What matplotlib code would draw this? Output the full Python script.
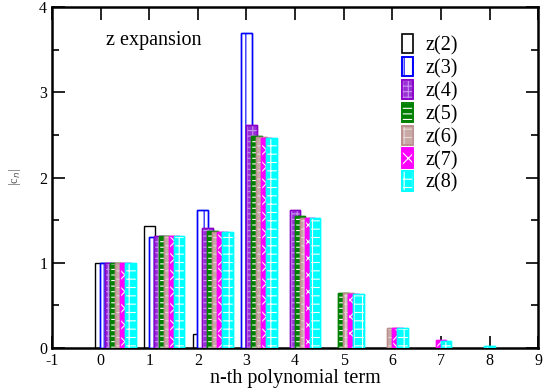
import matplotlib
matplotlib.use("Agg")
import matplotlib.pyplot as plt
from matplotlib.ticker import MultipleLocator
from matplotlib.patches import Patch

plt.rcParams['font.family'] = ['Liberation Serif', 'DejaVu Serif']
plt.rcParams['hatch.linewidth'] = 0.8
plt.rcParams['axes.unicode_minus'] = False

labels = ["z(2)", "z(3)", "z(4)", "z(5)", "z(6)", "z(7)", "z(8)"]
z2 = [1.00, 1.43, 0.17]
z3 = [1.00, 1.30, 1.62, 3.70]
z4 = [1.00, 1.31, 1.41, 2.62, 1.62]
z5 = [1.00, 1.31, 1.37, 2.49, 1.55, 0.65]
z6 = [1.00, 1.31, 1.36, 2.48, 1.53, 0.65, 0.24]
z7 = [1.00, 1.31, 1.36, 2.47, 1.53, 0.64, 0.24, 0.09]
z8 = [1.00, 1.31, 1.36, 2.47, 1.53, 0.64, 0.24, 0.085, 0.03]
series = [z2, z3, z4, z5, z6, z7, z8]

# (face, edge, hatch, hatch colour)
styles = [
    ("white", "black", None, None),
    ("white", "blue", "||", "blue"),
    ("#9a2fd6", "#8a00c8", "+++", "#c890f0"),
    ("green", "green", "---", "white"),
    ("#c9a9a6", "#bc8f8f", "++", "#e6d6d4"),
    ("magenta", "magenta", "xx", "white"),
    ("cyan", "cyan", "++", "white"),
]

fig = plt.figure(figsize=(5.48, 3.92), dpi=100)
ax = fig.add_axes([0.095, 0.112, 0.887, 0.870])

w = 0.22
step = 0.102
for k, (vals, st) in enumerate(zip(series, styles)):
    fc, ec, hatch, hc = st
    # bars in each group are packed from the first series present at that n
    xs = [n + (k - max(0, n - 2)) * step for n in range(len(vals))]
    ax.bar(xs, vals, width=w, color=fc, edgecolor=ec, linewidth=1.0, zorder=2 + k)
    if hatch:
        ax.bar(xs, vals, width=w, color="none", edgecolor=hc, hatch=hatch,
               linewidth=0, zorder=2 + k)
        ax.bar(xs, vals, width=w, color="none", edgecolor=ec, linewidth=1.0, zorder=2 + k)

handles = []
for fc, ec, hatch, hc in styles:
    base = Patch(facecolor=fc, edgecolor=ec, linewidth=1.2)
    if hatch:
        hp = Patch(facecolor="none", edgecolor=hc, hatch=hatch, linewidth=0)
        edge = Patch(facecolor="none", edgecolor=ec, linewidth=1.2)
        handles.append((base, hp, edge))
    else:
        handles.append(base)
ax.legend(handles, labels, loc="upper left", bbox_to_anchor=(0.704, 0.945),
          frameon=False, fontsize=14.5, handlelength=0.55, handleheight=1.1,
          handletextpad=0.6, labelspacing=0.07, borderaxespad=0)

ax.set_xlim(-1, 9)
ax.set_ylim(0, 4)
ax.xaxis.set_major_locator(MultipleLocator(1))
ax.yaxis.set_major_locator(MultipleLocator(1))
ax.yaxis.set_minor_locator(MultipleLocator(0.5))
ax.tick_params(which="both", direction="in", top=True, right=True, labelsize=11.5, width=1.2)
ax.tick_params(which="major", length=9)
ax.tick_params(which="minor", length=5)
for s in ax.spines.values():
    s.set_linewidth(1.8)

ax.set_xlabel("n-th polynomial term", fontsize=14.5, labelpad=0)
ax.set_ylabel("|c$_n$|", fontsize=9, color="#555555", labelpad=12)
ax.text(0.111, 0.902, "z expansion", transform=ax.transAxes, fontsize=14.5, va="center")

fig.savefig("out.png", dpi=100)
